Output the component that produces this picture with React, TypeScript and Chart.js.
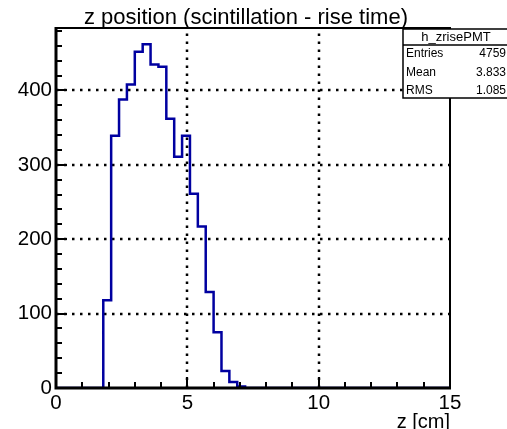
import React, { useEffect, useRef } from 'react';
import { Chart, registerables } from 'chart.js';

Chart.register(...registerables);

// Histogram h_zrisePMT: lower bin edges (cm) and counts (last point closes the range)
const binEdges = [0, 1.8, 2.1, 2.4, 2.7, 3.0, 3.3, 3.6, 3.9, 4.2, 4.5, 4.8, 5.1, 5.4, 5.7, 6.0, 6.3, 6.6, 6.9, 7.2, 15];
const counts = [0, 118, 339, 388, 408, 452, 462, 435, 432, 362, 311, 339, 261, 217, 129, 75, 23, 8, 2, 0, 0];

const xRange = [0, 15];
const yRange = [0, 484];
const xMajorStep = 5;
const xMinorStep = 1;
const yMajorStep = 100;
const yMinorStep = 20;

const titleText = 'z position (scintillation - rise time)';
const xAxisTitle = 'z [cm]';
const statsName = 'h_zrisePMT';
const statsLabels = ['Entries', 'Mean', 'RMS'];
const statsValues = ['4759', '3.833', '1.085'];

const FONT = '"Liberation Sans", Arial, Helvetica, sans-serif';
const LINE_COLOR = '#0000a0';

const rootStylePlugin = {
  id: 'rootStyle',
  beforeDatasetsDraw(chart: any) {
    const { ctx, chartArea: a, scales } = chart;
    const xs = scales.x;
    const ys = scales.y;
    ctx.save();
    ctx.strokeStyle = '#000';
    ctx.lineWidth = 2.5;
    ctx.setLineDash([2.5, 5.5]);
    for (let v = xRange[0] + xMajorStep; v < xRange[1]; v += xMajorStep) {
      const px = Math.round(xs.getPixelForValue(v));
      ctx.beginPath();
      ctx.moveTo(px, a.bottom);
      ctx.lineTo(px, a.top);
      ctx.stroke();
    }
    for (let v = yRange[0] + yMajorStep; v < yRange[1]; v += yMajorStep) {
      const py = Math.round(ys.getPixelForValue(v));
      ctx.beginPath();
      ctx.moveTo(a.left, py);
      ctx.lineTo(a.right, py);
      ctx.stroke();
    }
    ctx.restore();
  },
  afterDatasetsDraw(chart: any) {
    const { ctx, chartArea: a, scales } = chart;
    const xs = scales.x;
    const ys = scales.y;
    ctx.save();
    ctx.setLineDash([]);
    ctx.strokeStyle = '#000';
    // ticks
    ctx.lineWidth = 2;
    for (let v = xRange[0]; v <= xRange[1] + 1e-9; v += xMinorStep) {
      const px = Math.round(xs.getPixelForValue(v));
      const major = Math.abs(v / xMajorStep - Math.round(v / xMajorStep)) < 1e-6;
      ctx.beginPath();
      ctx.moveTo(px, a.bottom);
      ctx.lineTo(px, a.bottom - (major ? 11 : 6));
      ctx.stroke();
    }
    for (let v = yRange[0]; v <= yRange[1]; v += yMinorStep) {
      const py = Math.round(ys.getPixelForValue(v));
      const major = Math.abs(v / yMajorStep - Math.round(v / yMajorStep)) < 1e-6;
      ctx.beginPath();
      ctx.moveTo(a.left, py);
      ctx.lineTo(a.left + (major ? 11 : 6), py);
      ctx.stroke();
    }
    // frame
    ctx.lineWidth = 2;
    ctx.beginPath();
    ctx.moveTo(a.left, a.top);
    ctx.lineTo(a.right, a.top);
    ctx.lineTo(a.right, a.bottom);
    ctx.stroke();
    ctx.lineWidth = 3;
    ctx.beginPath();
    ctx.moveTo(a.left, a.top - 1);
    ctx.lineTo(a.left, a.bottom);
    ctx.lineTo(a.right + 1, a.bottom);
    ctx.stroke();

    // title
    ctx.fillStyle = '#000';
    ctx.font = `22px ${FONT}`;
    ctx.textAlign = 'center';
    ctx.textBaseline = 'alphabetic';
    ctx.fillText(titleText, 246, 24);

    // stats box
    const bx = 403, by = 29, bw = 110, bh = 69, hdr = 16;
    ctx.fillStyle = '#fff';
    ctx.fillRect(bx, by, bw, bh);
    ctx.lineWidth = 1.5;
    ctx.strokeRect(bx, by, bw, bh);
    ctx.beginPath();
    ctx.moveTo(bx, by + hdr);
    ctx.lineTo(bx + bw, by + hdr);
    ctx.stroke();
    ctx.fillStyle = '#000';
    ctx.font = `13px ${FONT}`;
    ctx.textAlign = 'center';
    ctx.textBaseline = 'middle';
    ctx.fillText(statsName, 456, by + hdr / 2 + 0.5);
    ctx.font = `12px ${FONT}`;
    statsLabels.forEach((lab, i) => {
      const yy = 54 + i * 18.5;
      ctx.textAlign = 'left';
      ctx.fillText(lab, 406, yy);
      ctx.textAlign = 'right';
      ctx.fillText(statsValues[i], 506, yy);
    });
    ctx.restore();
  },
};

export default function App() {
  const ref = useRef<HTMLCanvasElement | null>(null);
  useEffect(() => {
    if (!ref.current) return;
    const data = binEdges.map((x, i) => ({ x, y: counts[i] }));
    const chart = new Chart(ref.current, {
      type: 'line',
      data: {
        datasets: [
          {
            label: statsName,
            data,
            stepped: 'before',
            borderColor: LINE_COLOR,
            borderWidth: 2.5,
            pointRadius: 0,
            fill: false,
            tension: 0,
          },
        ],
      },
      options: {
        responsive: false,
        animation: false,
        devicePixelRatio: 1,
        layout: { padding: { top: 28, right: 57, left: 0, bottom: 0 } },
        plugins: { legend: { display: false }, tooltip: { enabled: false }, title: { display: false } },
        scales: {
          x: {
            type: 'linear',
            min: xRange[0],
            max: xRange[1],
            grid: { display: false, drawTicks: false },
            border: { display: false },
            ticks: {
              stepSize: xMajorStep,
              color: '#000',
              font: { family: FONT, size: 20.5 },
              padding: 3,
              maxRotation: 0,
              includeBounds: false,
            },
            title: {
              display: true,
              text: xAxisTitle,
              align: 'end',
              color: '#000',
              font: { family: FONT, size: 20, lineHeight: 1 },
              padding: { top: 0, bottom: -3 },
            },
            afterFit: (s: any) => {
              s.height = 41;
            },
          },
          y: {
            type: 'linear',
            min: yRange[0],
            max: yRange[1],
            grid: { display: false, drawTicks: false },
            border: { display: false },
            ticks: {
              stepSize: yMajorStep,
              color: '#000',
              font: { family: FONT, size: 20.5 },
              padding: 4,
              includeBounds: false,
            },
            afterFit: (s: any) => {
              s.width = 56;
            },
          },
        },
      },
      plugins: [rootStylePlugin],
    });
    return () => chart.destroy();
  }, []);
  return (
    <div style={{ position: 'fixed', left: 0, top: 0, width: 507, height: 429, background: '#fff' }}>
      <canvas ref={ref} width={507} height={429} style={{ width: 507, height: 429, display: 'block' }} />
    </div>
  );
}
